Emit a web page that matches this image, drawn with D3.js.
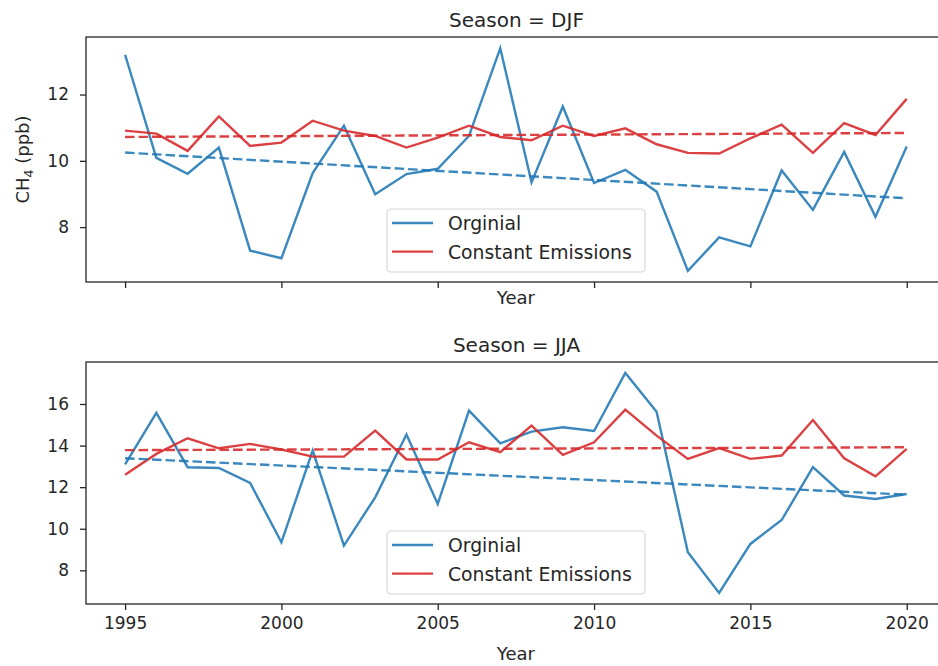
<!DOCTYPE html>
<html lang="en">
<head>
<meta charset="utf-8">
<title>CH4 by season</title>
<style>
  body { margin: 0; background: #fff; }
  svg text { font-family: "DejaVu Sans", sans-serif; fill: #262626; }
  .tick text { font-size: 17px; }
  .title { font-size: 20px; }
  .label { font-size: 18px; }
  .legend text { font-size: 18.8px; }
</style>
</head>
<body>
<script src="https://cdn.jsdelivr.net/npm/d3@7"></script>
<script>

// ---- data ----
const years = d3.range(1995, 2021);

const djfOriginal = [13.2, 10.09, 9.61, 10.4, 7.29, 7.06, 9.63, 11.06, 8.99, 9.6, 9.76,
                     10.75, 13.4, 9.35, 11.64, 9.33, 9.73, 9.07, 6.68, 7.69, 7.42,
                     9.71, 8.52, 10.27, 8.31, 10.43];
const djfConstant = [10.91, 10.82, 10.3, 11.34, 10.45, 10.55, 11.21, 10.91, 10.75, 10.4, 10.7,
                     11.06, 10.72, 10.62, 11.06, 10.75, 10.98, 10.5, 10.24, 10.22, 10.68,
                     11.09, 10.24, 11.14, 10.78, 11.87];
const jjaOriginal = [13.1, 15.57, 12.96, 12.92, 12.2, 9.35, 13.76, 9.19, 11.51, 14.53, 11.19,
                     15.68, 14.11, 14.67, 14.88, 14.7, 17.49, 15.63, 8.87, 6.91, 9.27,
                     10.42, 12.96, 11.6, 11.43, 11.67];
const jjaConstant = [12.6, 13.6, 14.35, 13.87, 14.08, 13.81, 13.47, 13.47, 14.72, 13.33, 13.33,
                     14.16, 13.68, 14.96, 13.55, 14.16, 15.73, 14.48, 13.36, 13.88, 13.36,
                     13.52, 15.23, 13.39, 12.52, 13.84];

// trend lines: [value at 1995, value at 2020]
const djfTrendOriginal = [10.25, 8.87];
const djfTrendConstant = [10.72, 10.84];
const jjaTrendOriginal = [13.39, 11.64];
const jjaTrendConstant = [13.78, 13.92];

const xTicks = [1995, 2000, 2005, 2010, 2015, 2020];
const djfTicks = [8, 10, 12];
const jjaTicks = [8, 10, 12, 14, 16];
const seriesNames = ["Orginial", "Constant Emissions"];
const seriesColors = ["#1f77b4", "#d62728"];

const panels = [
  { season: "DJF", orig: djfOriginal, cons: djfConstant, tOrig: djfTrendOriginal, tCons: djfTrendConstant,
    ticks: djfTicks, top: 37, bottom: 282, showXLabels: false, yLabel: true },
  { season: "JJA", orig: jjaOriginal, cons: jjaConstant, tOrig: jjaTrendOriginal, tCons: jjaTrendConstant,
    ticks: jjaTicks, top: 362, bottom: 604, showXLabels: true, yLabel: false }
];

const W = 938, H = 666;
const left = 86, right = 945.8;

const svg = d3.select("body").append("svg")
  .attr("width", W).attr("height", H);

const x = d3.scaleLinear().domain([1993.75, 2021.25]).range([left, right]);

panels.forEach(function(p) {
  const all = p.orig.concat(p.cons);
  const lo = d3.min(all), hi = d3.max(all), pad = (hi - lo) * 0.05;
  const y = d3.scaleLinear().domain([lo - pad, hi + pad]).range([p.bottom, p.top]);

  const g = svg.append("g");

  // axes
  const xAxis = d3.axisBottom(x).tickValues(xTicks).tickSize(6).tickPadding(7)
    .tickFormat(p.showXLabels ? d3.format("d") : "");
  const gx = g.append("g").attr("transform", "translate(0," + p.bottom + ")").call(xAxis);
  const gy = g.append("g").attr("transform", "translate(" + left + ",0)")
    .call(d3.axisLeft(y).tickValues(p.ticks).tickSize(6).tickPadding(11));
  [gx, gy].forEach(function(a) {
    a.select(".domain").remove();
    a.selectAll(".tick line").attr("stroke", "#262626").attr("stroke-width", 1.3);
  });

  // spines
  g.append("rect")
    .attr("x", left).attr("y", p.top)
    .attr("width", right - left).attr("height", p.bottom - p.top)
    .attr("fill", "none").attr("stroke", "#262626").attr("stroke-width", 1.3);

  const line = d3.line().x(function(d, i) { return x(years[i]); }).y(function(d) { return y(d); });

  const clipId = "clip-" + p.season;
  g.append("clipPath").attr("id", clipId).append("rect")
    .attr("x", left).attr("y", p.top).attr("width", right - left).attr("height", p.bottom - p.top);
  const plot = g.append("g").attr("clip-path", "url(#" + clipId + ")");

  [p.orig, p.cons].forEach(function(s, k) {
    plot.append("path").datum(s)
      .attr("d", line)
      .attr("fill", "none")
      .attr("stroke", seriesColors[k]).attr("stroke-opacity", 0.88)
      .attr("stroke-width", 2.4);
  });

  [p.tOrig, p.tCons].forEach(function(t, k) {
    plot.append("line")
      .attr("x1", x(1995)).attr("y1", y(t[0]))
      .attr("x2", x(2020)).attr("y2", y(t[1]))
      .attr("stroke", seriesColors[k]).attr("stroke-opacity", 0.88)
      .attr("stroke-width", 2.4).attr("stroke-dasharray", "9.5,4");
  });

  // title
  g.append("text").attr("class", "title")
    .attr("x", 516.5).attr("y", p.top - 10.5)
    .attr("text-anchor", "middle")
    .text("Season = " + p.season);

  // x label
  g.append("text").attr("class", "label")
    .attr("x", (left + right) / 2).attr("y", p.showXLabels ? p.bottom + 56 : p.bottom + 22)
    .attr("text-anchor", "middle")
    .text("Year");

  if (p.yLabel) {
    const t = g.append("text").attr("class", "label")
      .attr("transform", "translate(29," + ((p.top + p.bottom) / 2) + ") rotate(-90)")
      .attr("text-anchor", "middle");
    t.append("tspan").text("CH");
    t.append("tspan").attr("font-size", "12.5px").attr("dy", 4).text("4");
    t.append("tspan").attr("dy", -4).text(" (ppb)");
  }

  // legend
  const lg = g.append("g").attr("class", "legend")
    .attr("transform", "translate(387," + (p.bottom - 73) + ")");
  lg.append("rect").attr("width", 258).attr("height", 63).attr("rx", 4)
    .attr("fill", "#fff").attr("fill-opacity", 0.8)
    .attr("stroke", "#d6d6d6").attr("stroke-width", 1.1);
  seriesNames.forEach(function(n, k) {
    const yy = 14 + k * 28.6;
    lg.append("line").attr("x1", 5).attr("x2", 46).attr("y1", yy).attr("y2", yy)
      .attr("stroke", seriesColors[k]).attr("stroke-opacity", 0.88).attr("stroke-width", 2.4);
    lg.append("text").attr("x", 61).attr("y", yy + 7).text(n);
  });
});

</script>
</body>
</html>
